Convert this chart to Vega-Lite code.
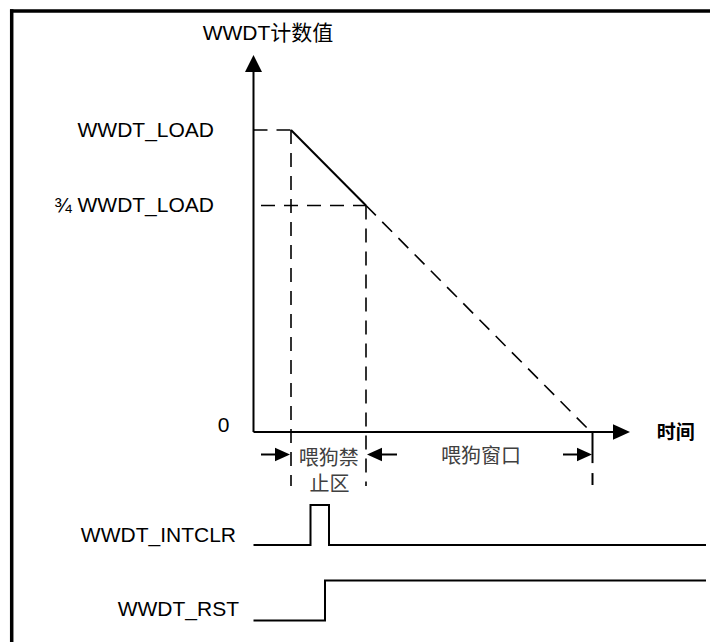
{
  "$schema": "https://vega.github.io/schema/vega-lite/v6.json",
  "width": 710,
  "height": 642,
  "autosize": {"type": "none"},
  "padding": 0,
  "background": "white",
  "config": {"view": {"stroke": null}},
  "datasets": {
    "border": [
      {"t": -93.67, "v": 139.4, "t2": 139.667, "v2": 139.4},
      {"t": -93.1, "v": 139.98, "t2": -93.1, "v2": -69.54}
    ],
    "solid": [
      {"t": -12.5, "v": 0, "t2": -12.5, "v2": 121.19},
      {"t": -12.5, "v": 0, "t2": 108.33, "v2": 0},
      {"t": 0, "v": 100, "t2": 25, "v2": 75},
      {"t": 100.5, "v": 0, "t2": 100.5, "v2": -10.3},
      {"t": 100.5, "v": -13.6, "t2": 100.5, "v2": -17.55},
      {"t": -10, "v": -7.45, "t2": -2.833, "v2": -7.45},
      {"t": 27.833, "v": -7.45, "t2": 35.333, "v2": -7.45},
      {"t": 90.667, "v": -7.45, "t2": 97.833, "v2": -7.45}
    ],
    "dashed": [
      {"t": -12.5, "v": 100, "t2": 0, "v2": 100},
      {"t": -10, "v": 75, "t2": 25, "v2": 75},
      {"t": 0, "v": 100, "t2": 0, "v2": -17.88},
      {"t": 25, "v": 75, "t2": 25, "v2": -17.88},
      {"t": 25, "v": 75, "t2": 100, "v2": 0}
    ],
    "signals": [
      {"signal": "WWDT_INTCLR", "seq": 1, "t": -12.5, "v": -37.42},
      {"signal": "WWDT_INTCLR", "seq": 2, "t": 6.5, "v": -37.42},
      {"signal": "WWDT_INTCLR", "seq": 3, "t": 6.5, "v": -24.17},
      {"signal": "WWDT_INTCLR", "seq": 4, "t": 12.667, "v": -24.17},
      {"signal": "WWDT_INTCLR", "seq": 5, "t": 12.667, "v": -37.42},
      {"signal": "WWDT_INTCLR", "seq": 6, "t": 138.33, "v": -37.42},
      {"signal": "WWDT_RST", "seq": 1, "t": -12.5, "v": -62.42},
      {"signal": "WWDT_RST", "seq": 2, "t": 11.333, "v": -62.42},
      {"signal": "WWDT_RST", "seq": 3, "t": 11.333, "v": -49.17},
      {"signal": "WWDT_RST", "seq": 4, "t": 138.33, "v": -49.17}
    ],
    "axisHeads": [
      {"t": -12.5, "v": 122.02, "dir": "up"},
      {"t": 110.17, "v": 0, "dir": "right"}
    ],
    "spanHeads": [
      {"t": -2.833, "v": -7.45, "dir": "right"},
      {"t": 27.833, "v": -7.45, "dir": "left"},
      {"t": 97.833, "v": -7.45, "dir": "right"}
    ],
    "rightLabels": [
      {"t": -25.667, "v": 99.6, "label": "WWDT_LOAD"},
      {"t": -25.667, "v": 74.84, "label": "¾ WWDT_LOAD"},
      {"t": -18.333, "v": -34.6, "label": "WWDT_INTCLR"},
      {"t": -17.333, "v": -58.94, "label": "WWDT_RST"}
    ],
    "zeroLabel": [
      {"t": -22.43, "v": 2.12, "label": "0"}
    ],
    "yTitle": [
      {"t": -7.67, "v": 131.79, "label": "WWDT计数值"}
    ],
    "xTitle": [
      {"t": 121.9, "v": -0.33, "label": "时间"}
    ],
    "spanLabels": [
      {"t": 12.6, "v": -8.8, "label": "喂狗禁"},
      {"t": 12.83, "v": -17.5, "label": "止区"},
      {"t": 63.33, "v": -8.44, "label": "喂狗窗口"}
    ]
  },
  "encoding": {
    "x": {"field": "t", "type": "quantitative", "scale": {"domain": [-97, 139.667], "nice": false, "zero": false}, "axis": null},
    "y": {"field": "v", "type": "quantitative", "scale": {"domain": [-69.54, 143.05], "nice": false, "zero": false}, "axis": null}
  },
  "layer": [
    {
      "data": {"name": "border"},
      "mark": {"type": "rule", "color": "black", "strokeWidth": 3.5},
      "encoding": {"x2": {"field": "t2"}, "y2": {"field": "v2"}}
    },
    {
      "data": {"name": "dashed"},
      "mark": {"type": "rule", "color": "black", "strokeWidth": 1.6, "strokeDash": [14, 9]},
      "encoding": {"x2": {"field": "t2"}, "y2": {"field": "v2"}}
    },
    {
      "data": {"name": "solid"},
      "mark": {"type": "rule", "color": "black", "strokeWidth": 2},
      "encoding": {"x2": {"field": "t2"}, "y2": {"field": "v2"}}
    },
    {
      "data": {"name": "signals"},
      "mark": {"type": "line", "color": "black", "strokeWidth": 2},
      "encoding": {"detail": {"field": "signal"}, "order": {"field": "seq", "type": "quantitative"}}
    },
    {
      "data": {"name": "axisHeads"},
      "mark": {"type": "point", "filled": true, "opacity": 1, "color": "black", "strokeWidth": 0, "size": 289},
      "encoding": {"shape": {"field": "dir", "type": "nominal", "legend": null, "scale": {"domain": ["up", "right", "left"], "range": ["M0,-1L-1,1L1,1Z", "M1,0L-1,-0.9L-1,0.9Z", "M-1,0L1,-0.9L1,0.9Z"]}}}
    },
    {
      "data": {"name": "spanHeads"},
      "mark": {"type": "point", "filled": true, "opacity": 1, "color": "black", "strokeWidth": 0, "size": 225},
      "encoding": {"shape": {"field": "dir", "type": "nominal", "legend": null, "scale": {"domain": ["up", "right", "left"], "range": ["M0,-1L-1,1L1,1Z", "M1,0L-1,-0.9L-1,0.9Z", "M-1,0L1,-0.9L1,0.9Z"]}}}
    },
    {
      "data": {"name": "rightLabels"},
      "mark": {"type": "text", "align": "right", "baseline": "middle", "font": "Liberation Sans", "fontSize": 21, "color": "black"},
      "encoding": {"text": {"field": "label"}}
    },
    {
      "data": {"name": "zeroLabel"},
      "mark": {"type": "text", "align": "center", "baseline": "middle", "font": "Liberation Sans", "fontSize": 21, "color": "black"},
      "encoding": {"text": {"field": "label"}}
    },
    {
      "data": {"name": "yTitle"},
      "mark": {"type": "text", "align": "center", "baseline": "middle", "font": "Liberation Sans, Noto Sans CJK SC", "fontSize": 21, "color": "black"},
      "encoding": {"text": {"field": "label"}}
    },
    {
      "data": {"name": "xTitle"},
      "mark": {"type": "text", "align": "left", "baseline": "middle", "font": "Noto Sans CJK SC", "fontSize": 19, "fontWeight": "bold", "color": "black"},
      "encoding": {"text": {"field": "label"}}
    },
    {
      "data": {"name": "spanLabels"},
      "mark": {"type": "text", "align": "center", "baseline": "middle", "font": "Noto Sans CJK SC", "fontSize": 20, "color": "#404040"},
      "encoding": {"text": {"field": "label"}}
    }
  ]
}
